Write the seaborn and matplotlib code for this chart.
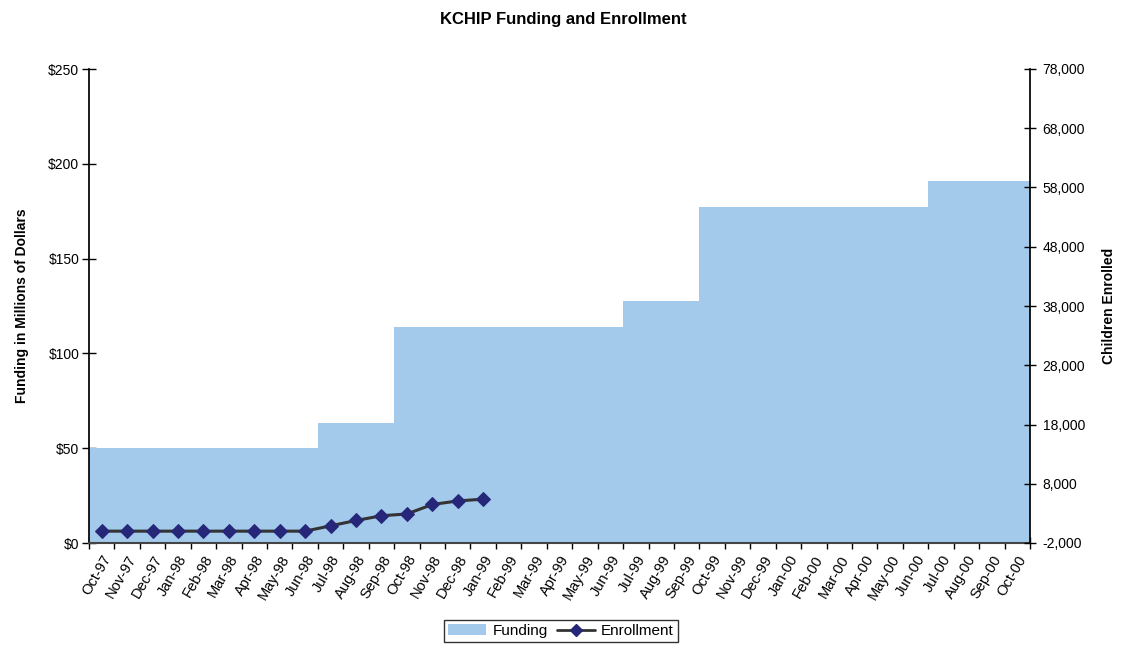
import numpy as np
import pandas as pd
import matplotlib
matplotlib.use('Agg')
import matplotlib.pyplot as plt
import seaborn as sns
from matplotlib.patches import Patch
from matplotlib.lines import Line2D
from matplotlib.ticker import FuncFormatter

sns.set_theme(style="white")
plt.rcParams['font.family'] = ['Liberation Sans', 'DejaVu Sans']
plt.rcParams['text.color'] = 'black'
plt.rcParams['axes.labelcolor'] = 'black'
plt.rcParams['xtick.color'] = 'black'
plt.rcParams['ytick.color'] = 'black'

# Months Oct-97 .. Oct-00
months = ['Oct-97', 'Nov-97', 'Dec-97', 'Jan-98', 'Feb-98', 'Mar-98', 'Apr-98', 'May-98',
          'Jun-98', 'Jul-98', 'Aug-98', 'Sep-98', 'Oct-98', 'Nov-98', 'Dec-98', 'Jan-99',
          'Feb-99', 'Mar-99', 'Apr-99', 'May-99', 'Jun-99', 'Jul-99', 'Aug-99', 'Sep-99',
          'Oct-99', 'Nov-99', 'Dec-99', 'Jan-00', 'Feb-00', 'Mar-00', 'Apr-00', 'May-00',
          'Jun-00', 'Jul-00', 'Aug-00', 'Sep-00', 'Oct-00']

# Funding in millions of dollars (step levels per month)
funding = ([50] * 9 + [63.5] * 3 + [114] * 9 + [127.5] * 3 + [177] * 9 + [191] * 4)

# Enrollment (children), Oct-97 .. Jan-99
enrollment = [0, 0, 0, 0, 0, 0, 0, 0, 0, 900, 1800, 2600, 2900, 4500, 5100, 5400]

area_color = '#A3C9EB'
line_color = '#333333'
marker_color = '#27277A'
fs = 10

df = pd.DataFrame({'Month': months, 'Funding': funding})

fig = plt.figure(figsize=(11.26, 6.47), dpi=100)
ax = fig.add_axes([89 / 1126, 104 / 647, 941 / 1126, 474 / 647])

sns.barplot(data=df, x='Month', y='Funding', width=1.0, color=area_color,
            saturation=1, edgecolor='none', linewidth=0, ax=ax)
ax.set_xlim(-0.5, len(months) - 0.5)
ax.set_ylim(0, 250)
ax.set_yticks(np.arange(0, 251, 50))
ax.yaxis.set_major_formatter(FuncFormatter(lambda v, p: f'${int(v)}'))
ax.set_xlabel('')
ax.set_ylabel('Funding in Millions of Dollars', fontsize=fs, fontweight='bold', labelpad=14)

# x labels at centers, tick marks at boundaries
ax.set_xticks(np.arange(len(months)))
ax.set_xticklabels(months, rotation=60, ha='right', rotation_mode='anchor', fontsize=10.5)
ax.set_xticks(np.arange(-0.5, len(months), 1), minor=True)
ax.tick_params(axis='x', which='major', length=0, pad=7)
ax.tick_params(axis='x', which='minor', length=8, direction='inout', color='black', width=1,
               bottom=True)
ax.tick_params(axis='y', which='major', length=10, direction='inout', color='black', width=1,
               left=True, labelsize=fs, pad=2)

for s in ['top', 'right']:
    ax.spines[s].set_visible(False)
ax.spines['left'].set_color('black')
ax.spines['bottom'].set_color('#444444')
ax.spines['bottom'].set_linewidth(1.5)

# enrollment on secondary axis
ax2 = ax.twinx()
sns.lineplot(x=np.arange(len(enrollment)), y=enrollment, ax=ax2, color=line_color,
             linewidth=2.2, marker='D', markersize=7, markerfacecolor=marker_color,
             markeredgecolor=marker_color)
ax2.set_ylim(-2000, 78000)
ax2.set_yticks(np.arange(-2000, 78001, 10000))
ax2.yaxis.set_major_formatter(FuncFormatter(lambda v, p: f'{int(v):,}'))
ax2.set_ylabel('Children Enrolled', fontsize=fs, fontweight='bold', labelpad=12)
ax2.tick_params(axis='y', length=8, direction='inout', color='black', width=1,
                right=True, labelsize=fs, pad=5)
for s in ['top', 'left', 'bottom']:
    ax2.spines[s].set_visible(False)
ax2.spines['right'].set_color('black')

fig.suptitle('KCHIP Funding and Enrollment', y=0.982, fontsize=12, fontweight='bold')

handles = [Patch(facecolor=area_color, edgecolor='none'),
           Line2D([0], [0], color=line_color, linewidth=2, marker='D', markersize=6,
                  markerfacecolor=marker_color, markeredgecolor=marker_color)]
leg = fig.legend(handles, ['Funding', 'Enrollment'], loc='lower center',
                 bbox_to_anchor=(561 / 1126, -0.004), ncol=2, frameon=True,
                 fancybox=False, edgecolor='black', fontsize=11, handlelength=2.5,
                 handletextpad=0.4, columnspacing=0.6, borderpad=0.25)
leg.get_frame().set_linewidth(1)

fig.savefig('out.png', dpi=100)
